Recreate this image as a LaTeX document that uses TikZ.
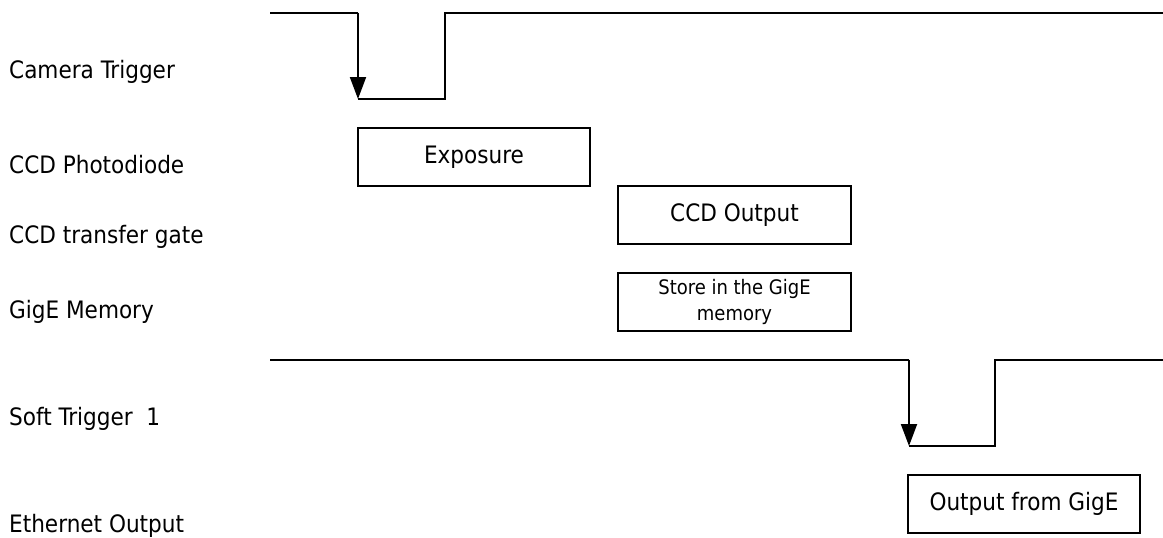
\documentclass[tikz,border=0pt]{standalone}
\usepackage{fontspec}
\setmainfont{DejaVu Sans Condensed}
\usetikzlibrary{arrows.meta}
\begin{document}
\begin{tikzpicture}[x=1pt,y=-1pt,
  lbl/.style={anchor=base west, inner sep=0pt, font=\fontsize{24}{28}\selectfont},
  phase/.style={draw, line width=2pt, inner sep=0pt, align=center,
                minimum width=232pt, minimum height=58pt,
                font=\fontsize{24}{28}\selectfont},
  sig/.style={line width=2pt, line join=miter},
  trig/.style={sig, -{Triangle[length=22pt,width=16pt]}}]
\useasboundingbox (0,0) rectangle (1163,538);

% row labels
\node[lbl] (lcam)  at (9,78.5)  {Camera Trigger};
\node[lbl] (lpd)   at (9,173)   {CCD Photodiode};
\node[lbl] (ltg)   at (9,243)   {CCD transfer gate};
\node[lbl] (lmem)  at (9,318)   {GigE Memory};
\node[lbl] (lsoft) at (9,425)   {Soft Trigger~~1};
\node[lbl] (leth)  at (9,532)   {Ethernet Output};

% phase boxes
\node[phase] (expo)  at (474,157)   {Exposure};
\node[phase, minimum width=233pt] (ccdout) at (734.5,215) {CCD Output};
\node[phase, minimum width=233pt, font=\fontsize{20}{26}\selectfont] (store) at (734.5,302) {Store in the GigE\\memory};
\node[phase] (gigeout) at (1024,504) {Output from GigE};

% camera trigger signal
\coordinate (ct0) at (270,12.7);
\coordinate (ct1) at (358,12.7);
\coordinate (ct2) at (358,99);
\coordinate (ct3) at (445,99);
\coordinate (ct4) at (445,12.7);
\coordinate (ct5) at (1163,12.7);
\draw[sig] (ct0) -- (ct1);
\draw[trig] (ct1) -- (ct2);
\draw[sig] (ct2) -- (ct3) -- (ct4) -- (ct5);

% soft trigger signal
\coordinate (st0) at (270,359.5);
\coordinate (st1) at (909,359.5);
\coordinate (st2) at (909,446);
\coordinate (st3) at (995,446);
\coordinate (st4) at (995,359.5);
\coordinate (st5) at (1163,359.5);
\draw[sig] (st0) -- (st1);
\draw[trig] (st1) -- (st2);
\draw[sig] (st2) -- (st3) -- (st4) -- (st5);
\end{tikzpicture}
\end{document}
